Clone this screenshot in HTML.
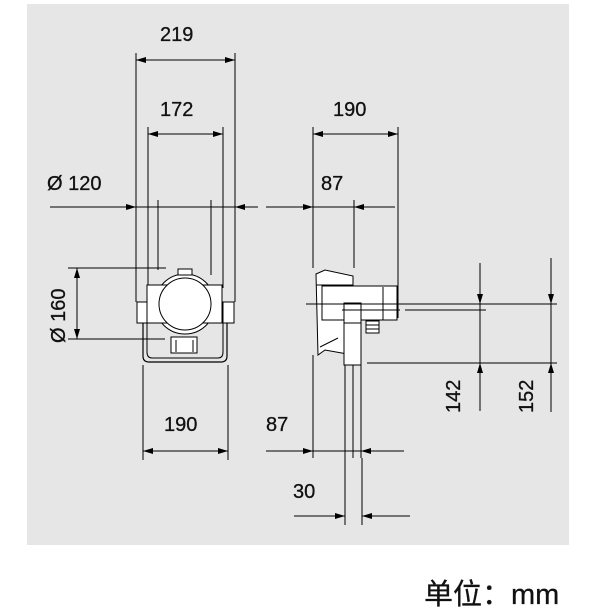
<!DOCTYPE html>
<html><head><style>
html,body{margin:0;padding:0;background:#fff;width:601px;height:608px;overflow:hidden}
text{font-family:"Liberation Sans",sans-serif;font-size:20px;fill:#111;stroke:#111;stroke-width:0.3}
</style></head><body>
<svg width="601" height="608" viewBox="0 0 601 608" xmlns="http://www.w3.org/2000/svg">
<defs>
<marker id="a" viewBox="0 0 10 6" refX="10" refY="3" markerWidth="11" markerHeight="6" markerUnits="userSpaceOnUse" orient="auto-start-reverse"><path d="M0,0L10,3L0,6z" fill="#000"/></marker>
</defs>
<rect x="27" y="4" width="542" height="541" fill="#e6e6e6"/>
<g stroke="#000" stroke-width="1" fill="none">
<line x1="136" y1="53" x2="136" y2="302"/><line x1="235" y1="53" x2="235" y2="302"/>
<line x1="136" y1="60" x2="235" y2="60" marker-start="url(#a)" marker-end="url(#a)"/>
<line x1="148" y1="127" x2="148" y2="288"/><line x1="223" y1="127" x2="223" y2="288"/>
<line x1="148" y1="134" x2="223" y2="134" marker-start="url(#a)" marker-end="url(#a)"/>
<line x1="50" y1="207" x2="136" y2="207" marker-end="url(#a)"/>
<line x1="136" y1="207" x2="235" y2="207"/>
<line x1="258" y1="207" x2="235" y2="207" marker-end="url(#a)"/>
<line x1="266" y1="207" x2="313" y2="207" marker-end="url(#a)"/>
<line x1="313" y1="207" x2="354" y2="207"/>
<line x1="395" y1="207" x2="354" y2="207" marker-end="url(#a)"/>
<line x1="158" y1="200" x2="158" y2="270"/><line x1="211" y1="200" x2="211" y2="275"/>
<line x1="68" y1="268" x2="166" y2="268"/><line x1="68" y1="339" x2="165" y2="339"/>
<line x1="77" y1="268" x2="77" y2="339" marker-start="url(#a)" marker-end="url(#a)"/>
<path d="M143,320 V356 Q143,362 149,362 H221 Q227,362 227,356 V320" stroke-width="1.2"/>
<path d="M147,321 V352 Q147,358 152,358 H218 Q223,358 223,352 V321"/>
<rect x="137" y="302" width="11" height="21" fill="#fff"/>
<rect x="223" y="302" width="11" height="21" fill="#fff"/>
<circle cx="185" cy="304" r="30" fill="#fff"/>
<rect x="147" y="285" width="75" height="38" fill="#fff"/>
<circle cx="185" cy="304" r="26" fill="#fff"/>
<rect x="178" y="269" width="14" height="6" fill="#fff"/>
<rect x="171" y="337" width="26" height="16" fill="#fff"/>
<line x1="176" y1="340" x2="176" y2="352"/><line x1="193" y1="340" x2="193" y2="352"/>
<line x1="143" y1="365" x2="143" y2="460"/><line x1="228" y1="365" x2="228" y2="460"/>
<line x1="143" y1="451" x2="228" y2="451" marker-start="url(#a)" marker-end="url(#a)"/>
<line x1="313" y1="127" x2="313" y2="268"/><line x1="398" y1="127" x2="398" y2="298"/>
<line x1="313" y1="134" x2="398" y2="134" marker-start="url(#a)" marker-end="url(#a)"/>
<line x1="354" y1="200" x2="354" y2="268"/>
<path d="M316,274 L325,270 L353,276 V355 L325,350 L318,355 Z" fill="#fff"/>
<line x1="316" y1="285" x2="353" y2="285"/>
<path d="M320,347 L338,338"/>
<rect x="322" y="286" width="75" height="34" fill="#fff"/>
<line x1="383" y1="287" x2="383" y2="320"/>
<line x1="398" y1="288" x2="398" y2="318"/>
<rect x="344" y="303" width="17" height="62" fill="#fff"/>
<line x1="344" y1="323" x2="361" y2="323"/>
<rect x="366" y="321" width="13" height="12" fill="#fff"/>
<line x1="366" y1="325" x2="379" y2="325"/><line x1="366" y1="329" x2="379" y2="329"/>
<line x1="306" y1="304" x2="557" y2="304"/>
<line x1="342" y1="310" x2="400" y2="310"/>
<line x1="405" y1="310" x2="486" y2="310"/>
<line x1="367" y1="363" x2="557" y2="363"/>
<line x1="480" y1="263" x2="480" y2="304" marker-end="url(#a)"/>
<line x1="480" y1="304" x2="480" y2="363"/>
<line x1="480" y1="411" x2="480" y2="363" marker-end="url(#a)"/>
<line x1="551" y1="258" x2="551" y2="304" marker-end="url(#a)"/>
<line x1="551" y1="304" x2="551" y2="363"/>
<line x1="551" y1="412" x2="551" y2="363" marker-end="url(#a)"/>
<line x1="313" y1="355" x2="313" y2="458"/>
<line x1="353" y1="365" x2="353" y2="458"/>
<line x1="361" y1="365" x2="361" y2="458"/>
<line x1="266" y1="451" x2="313" y2="451" marker-end="url(#a)"/>
<line x1="313" y1="451" x2="361" y2="451"/>
<line x1="404" y1="451" x2="361" y2="451" marker-end="url(#a)"/>
<line x1="345" y1="365" x2="345" y2="525"/><line x1="362" y1="458" x2="362" y2="525"/>
<line x1="294" y1="516" x2="345" y2="516" marker-end="url(#a)"/>
<line x1="410" y1="516" x2="362" y2="516" marker-end="url(#a)"/>
</g>
<text x="160" y="41">219</text>
<text x="160" y="116">172</text>
<text x="47" y="190">Ø 120</text>
<text x="333" y="116">190</text>
<text x="321" y="190">87</text>
<text x="164" y="431">190</text>
<text x="266" y="431">87</text>
<text x="293" y="498">30</text>
<text transform="translate(65,343) rotate(-90)">Ø 160</text>
<text transform="translate(460,413) rotate(-90)">142</text>
<text transform="translate(533,413) rotate(-90)">152</text>
<text x="424" y="604" style="font-family:'Liberation Sans','Noto Sans CJK SC',sans-serif;font-size:29px">单位：mm</text>
</svg>
</body></html>
